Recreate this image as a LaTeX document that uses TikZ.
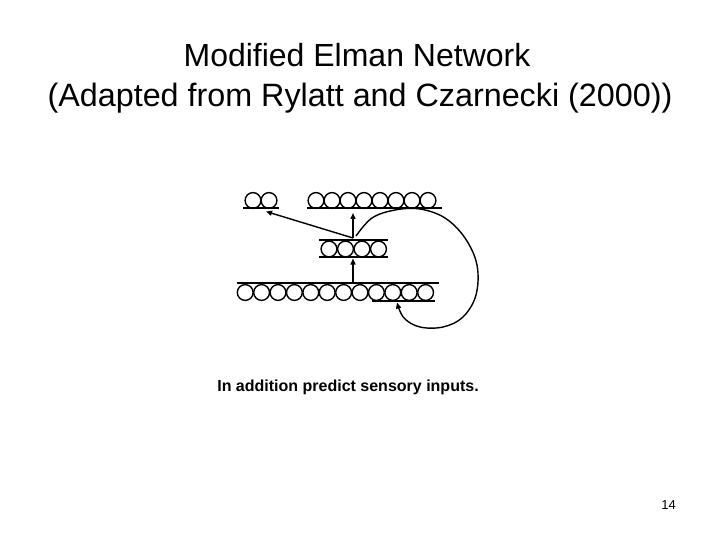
\documentclass[tikz,border=0pt]{standalone}
\usepackage{fontspec}
\setmainfont{Liberation Sans}
\usetikzlibrary{arrows.meta}
\begin{document}
\begin{tikzpicture}[x=1pt,y=-1pt,
  unit/.style={circle,draw,line width=1.4pt,minimum size=15.8pt,inner sep=0pt},
  bar/.style={line width=2pt},
  conn/.style={line width=1.4pt,-{Triangle[length=6pt,width=5pt]}},
  txt/.style={anchor=base,inner sep=0pt}]
\useasboundingbox (0,0) rectangle (720,540);
\node[txt] (t1) at (357,67) {\fontsize{32}{38}\selectfont Modified Elman Network};
\node[txt] (t2) at (360,107) {\fontsize{32.3}{38}\selectfont (Adapted from Rylatt and Czarnecki (2000))};
\node[txt] (cap) at (348,391) {\fontsize{16}{19}\selectfont\bfseries In addition predict sensory inputs.};
\node[txt] (pg) at (668.5,509) {\fontsize{13}{15}\selectfont 14};
% top-left output group (2 units)
\foreach \i in {0,1} \node[unit] (a\i) at ({253+16*\i},200.5) {};
\draw[bar] (243,208) coordinate (al) -- (279,208) coordinate (ar);
% top-right output group (8 units)
\foreach \i in {0,...,7} \node[unit] (b\i) at ({316+16*\i},200.5) {};
\draw[bar] (307,208) -- (442,208);
% hidden layer (4 units)
\foreach \i in {0,...,3} \node[unit] (h\i) at ({329+16.5*\i},249) {};
\draw[bar] (319,239.5) -- (388,239.5);
\draw[bar] (319,257) -- (388,257);
% input layer (12 units)
\foreach \i in {0,...,11} \node[unit] (x\i) at ({245.2+16.4*\i},292.5) {};
\draw[bar] (237,282.5) -- (439,282.5);
\draw[bar] (372,301) -- (435,301);
% connectors
\coordinate (inTop) at (353,282.5);
\coordinate (hidBot) at (353,258.5);
\coordinate (hidTop) at (353,238);
\coordinate (outTop) at (353,213);
\coordinate (leftOut) at (266,211.5);
\coordinate (ctxIn) at (397,302.5);
\coordinate (ctxSrc) at (356,236);
\draw[conn] (inTop) -- (hidBot);
\draw[conn] (hidTop) -- (outTop);
\draw[conn] (hidTop) -- (leftOut);
\draw[conn] plot[smooth,tension=0.6] coordinates {(ctxSrc) (372,218) (395,210) (420,209) (445,218) (465,238) (477,265) (476,295) (463,317) (443,327) (420,327) (404,318) (ctxIn)};
\end{tikzpicture}
\end{document}
